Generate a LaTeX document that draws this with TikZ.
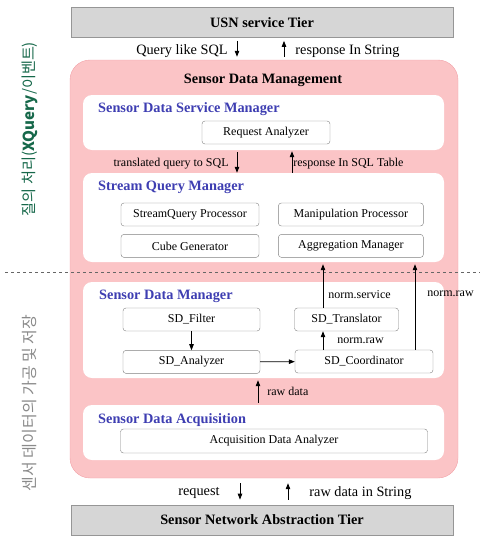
\documentclass[tikz,border=0pt]{standalone}
\usepackage{fontspec}
\setmainfont{Liberation Serif}
\newfontfamily\krfont{Noto Sans CJK KR}
\usetikzlibrary{arrows.meta,positioning}
\definecolor{tiergrey}{RGB}{214,214,214}
\definecolor{tierline}{RGB}{150,150,150}
\definecolor{sdmpink}{RGB}{251,196,198}
\definecolor{sdmline}{RGB}{242,162,168}
\definecolor{mgrblue}{RGB}{62,62,178}
\definecolor{querygreen}{RGB}{22,104,74}
\definecolor{storegrey}{RGB}{138,138,138}

\begin{document}
\begin{tikzpicture}[x=1pt, y=-1pt,
    tier/.style={rectangle, draw=tierline, thick, fill=tiergrey,
        minimum width=382pt, minimum height=30pt,
        font=\fontsize{14.3}{16}\selectfont\bfseries},
    zone/.style={rectangle, draw=sdmline, fill=sdmpink,
        minimum width=388pt, minimum height=418pt, rounded corners=20pt},
    panel/.style={rectangle, fill=white, minimum width=361pt,
        rounded corners=9pt},
    mgr/.style={anchor=west, inner sep=0pt, text=mgrblue,
        font=\fontsize{14.3}{16}\selectfont\bfseries},
    unit/.style={rectangle, draw=black!50, fill=white, inner sep=0pt,
        minimum height=23pt, font=\fontsize{12}{14}\selectfont,
        rounded corners=3pt},
    arr/.style={-{Triangle[length=6pt, width=4.5pt]}, line width=0.8pt},
    lbl/.style={inner sep=0pt, font=\fontsize{12}{14}\selectfont},
    tlbl/.style={inner sep=0pt, font=\fontsize{14.3}{16}\selectfont}
]
    \useasboundingbox (0,0) rectangle (480,536);

    % Tiers above and below
    \node[tier] (usn) at (262,22.5) {USN service Tier};
    \node[tier] (sna) at (262,520) {Sensor Network Abstraction Tier};

    % Sensor data management block with its four panels
    \node[zone] (sdm) at (264,269) {};
    \node[inner sep=0pt, font=\fontsize{14.3}{16}\selectfont\bfseries]
        (sdmtitle) at (263,80) {Sensor Data Management};

    \node[panel, minimum height=55pt] (svc) at (263.5,122.5) {};
    \node[panel, minimum height=89pt] (sqm) at (263.5,217.5) {};
    \node[panel, minimum height=96pt] (sdmgr) at (263.5,330) {};
    \node[panel, minimum height=55pt] (acq) at (263.5,432.5) {};

    \node[mgr] (svctitle) at (98,109) {Sensor Data Service Manager};
    \node[mgr] (sqmtitle) at (98,187) {Stream Query Manager};
    \node[mgr] (mgrtitle) at (99,296) {Sensor Data Manager};
    \node[mgr] (acqtitle) at (98,420) {Sensor Data Acquisition};

    % Service manager
    \node[unit, minimum width=128pt] (reqan) at (266,132.5) {Request Analyzer};

    % Stream query manager
    \node[unit, minimum width=138pt] (sqp) at (190,214.5) {StreamQuery Processor};
    \node[unit, minimum width=145pt, right=19pt of sqp] (manip) {Manipulation Processor};
    \node[unit, minimum width=138pt, below=8pt of sqp] (cube) {Cube Generator};
    \node[unit, minimum width=145pt, below=8pt of manip] (aggr) {Aggregation Manager};

    % Sensor data manager
    \node[unit, minimum width=137pt] (filter) at (191.5,319.5) {SD\_Filter};
    \node[unit, minimum width=137pt, below=19pt of filter] (anlz) {SD\_Analyzer};
    \node[unit, minimum width=104pt] (trans) at (346.5,319.5) {SD\_Translator};
    \node[unit, minimum width=138pt] (coord) at (364,361.5) {SD\_Coordinator};

    % Acquisition
    \node[unit, minimum width=307pt, minimum height=24pt] (adan) at (274,441)
        {Acquisition Data Analyzer};

    % Layer separator
    \draw[dashed, black!60, line width=0.8pt] (5,272.5) -- (480,272.5);

    % Side captions
    \node[rotate=90, text=querygreen, font=\krfont\fontsize{15.2}{17}\selectfont]
        (qlayer) at (30,129) {질의 처리(\textbf{XQuery}/이벤트)};
    \node[rotate=90, text=storegrey, font=\krfont\fontsize{16}{18}\selectfont]
        (slayer) at (30,403) {센서 데이터의 가공 및 저장};

    % Query path
    \coordinate (qdown) at ([xshift=-25pt]usn.south);
    \coordinate (qup) at ([xshift=22pt]usn.south);
    \draw[arr, shorten <=3pt, shorten >=3pt] (qdown) -- (qdown |- sdm.north)
        node[midway, left=9pt, yshift=-2pt, tlbl] {Query like SQL};
    \draw[arr, shorten <=3pt, shorten >=3pt] (qup |- sdm.north) -- (qup)
        node[midway, right=11pt, yshift=-2pt, tlbl] {response In String};

    \coordinate (tdown) at ([xshift=-26.5pt]svc.south);
    \coordinate (tup) at ([xshift=28.5pt]svc.south);
    \draw[arr, shorten <=2pt] (tdown) -- (tdown |- sqm.north)
        node[midway, left=8pt, yshift=-2pt, lbl] {translated query to SQL};
    \draw[arr, shorten >=1pt] (tup |- sqm.north) -- (tup)
        node[midway, right=1pt, yshift=-2pt, lbl] {response In SQL Table};

    % Sensor data manager flow
    \draw[arr] (filter) -- (anlz);
    \draw[arr] (anlz) -- (coord);
    \coordinate (cleft) at ([xshift=-41pt]coord.north);
    \coordinate (cright) at ([xshift=51pt]coord.north);
    \draw[arr] (cleft) -- (cleft |- trans.south)
        node[midway, right=14pt, lbl] {norm.raw};
    \draw[arr, shorten >=2pt] (cleft |- trans.north) -- (cleft |- sqm.south)
        node[pos=0.3, right=5pt, lbl] {norm.service};
    \draw[arr, shorten >=2pt] (cright) -- (cright |- sqm.south)
        node[pos=0.64, right=12pt, lbl] {norm.raw};

    % Raw data from acquisition
    \coordinate (rup) at ([xshift=-5.5pt]acq.north);
    \draw[arr, shorten <=2pt, shorten >=2pt] (rup) -- (rup |- sdmgr.south)
        node[midway, right=9pt, lbl] {raw data};

    % Sensor network path
    \coordinate (sdown) at ([xshift=-22pt]sna.north);
    \coordinate (sup) at ([xshift=26pt]sna.north);
    \draw[arr, shorten <=5pt, shorten >=5pt] (sdown |- sdm.south) -- (sdown)
        node[midway, left=20pt, yshift=-2pt, tlbl] {request};
    \draw[arr, shorten <=5pt, shorten >=5pt] (sup) -- (sup |- sdm.south)
        node[midway, right=21pt, yshift=-2pt, tlbl] {raw data in String};
\end{tikzpicture}
\end{document}
